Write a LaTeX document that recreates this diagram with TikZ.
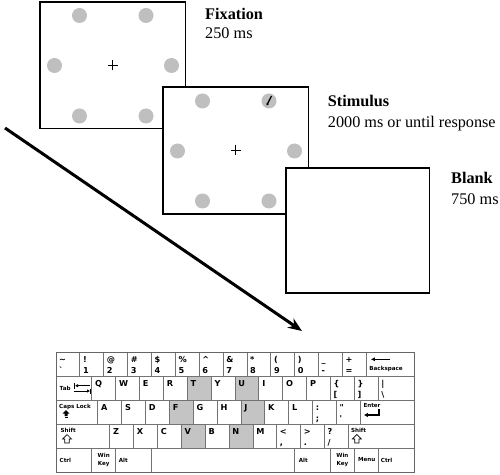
\documentclass[tikz,border=0pt]{standalone}
\usepackage{fontspec}
\setmainfont{Liberation Serif}
\newfontfamily\kbfont{DejaVu Sans}
\usetikzlibrary{arrows.meta,calc}
\newcommand\kk[5]{\node[keybox,#5,minimum width={#4*23.867bp}] (#1) at ({56+#2*23.867},{352+#3*24}) {};}
\newcommand\kl[2]{\node[klet] (#1-l) at ($(#1.north west)+(3.2,10.3)$) {#2};}
\newcommand\kt[3]{\node[klet] (#1-u) at ($(#1.north west)+(3,10.3)$) {#2};\node[klet] (#1-d) at ($(#1.north west)+(3,21)$) {#3};}
\newcommand\ksl[4]{\node[ksm] (#1-s) at ($(#1.north west)+(#2,#3)$) {#4};}
\begin{document}
\begin{tikzpicture}[x=1bp,y=-1bp,
  frame/.style={draw=black,line width=1.6bp,fill=white,inner sep=0,outer sep=0,anchor=north west},
  gdot/.style={circle,fill=black!25,inner sep=0,minimum size=15bp},
  plus/.style={line width=0.7bp},
  lab/.style={anchor=base west,inner sep=0,font=\fontsize{16.3}{18}\selectfont},
  keybox/.style={draw=black!55,line width=0.8bp,fill=white,inner sep=0,outer sep=0,anchor=north west,minimum height=24bp},
  shade/.style={fill=black!23},
  klet/.style={anchor=base west,inner sep=0,font=\kbfont\bfseries\fontsize{8.2}{8.5}\selectfont},
  ksm/.style={anchor=west,inner sep=0,font=\kbfont\bfseries\fontsize{5.6}{6}\selectfont},
  kicon/.style={line width=1bp},
]
\useasboundingbox (0,0) rectangle (500,475);

% ---- Fixation frame
\node[frame,minimum width=145.5bp,minimum height=126.5bp] (fix) at (40,2) {};
\foreach \dx/\dy [count=\i] in {39.5/13.5,106/13.5,14.5/63.5,131.5/63.5,39.5/114,106/114}
  \node[gdot] (fd\i) at ($(fix.north west)+(\dx,\dy)$) {};
\draw[plus] ($(fix.center)+(-5,0)$) -- ($(fix.center)+(5,0)$) ($(fix.center)+(0,-5)$) -- ($(fix.center)+(0,5)$);

% ---- Stimulus frame
\node[frame,minimum width=145.5bp,minimum height=127bp] (stim) at (163,87) {};
\foreach \dx/\dy [count=\i] in {39.5/14,106/14,14.5/64,131.5/64,39.5/114,106/114}
  \node[gdot] (sd\i) at ($(stim.north west)+(\dx,\dy)$) {};
\draw[plus] ($(stim.center)+(-5,0)$) -- ($(stim.center)+(5,0)$) ($(stim.center)+(0,-5)$) -- ($(stim.center)+(0,5)$);
\draw[line width=1.3bp,-{Latex[length=2.5bp,width=2.8bp]}] ($(sd2.center)+(2.5,-5)$) -- ($(sd2.center)+(-2.5,4.8)$);

% ---- Blank frame
\node[frame,minimum width=143.5bp,minimum height=125bp] (blank) at (286,168) {};

% ---- Labels
\node[lab] (fixT) at (205,20) {\textbf{Fixation}};
\node[lab] (fixD) at (205,39) {250 ms};
\node[lab] (stT) at (327.7,107) {\textbf{Stimulus}};
\node[lab] (stD) at (327.7,127.5) {2000 ms or until response};
\node[lab] (blT) at (451,184) {\textbf{Blank}};
\node[lab] (blD) at (451,205) {750 ms};

% ---- Time arrow
\coordinate (astart) at (5,128);
\coordinate (aend) at (302,331);
\draw[line width=3bp,-{Stealth[length=14bp,width=11bp]}] (astart) -- (aend);

% ---- Keyboard row 0
\kk{ktil}{0}{0}{1}{}\kt{ktil}{\textasciitilde}{\textasciigrave}
\kk{k1}{1}{0}{1}{}\kt{k1}{!}{1}
\kk{k2}{2}{0}{1}{}\kt{k2}{@}{2}
\kk{k3}{3}{0}{1}{}\kt{k3}{\#}{3}
\kk{k4}{4}{0}{1}{}\kt{k4}{\$}{4}
\kk{k5}{5}{0}{1}{}\kt{k5}{\%}{5}
\kk{k6}{6}{0}{1}{}\kt{k6}{\textasciicircum}{6}
\kk{k7}{7}{0}{1}{}\kt{k7}{\&}{7}
\kk{k8}{8}{0}{1}{}\kt{k8}{*}{8}
\kk{k9}{9}{0}{1}{}\kt{k9}{(}{9}
\kk{k0}{10}{0}{1}{}\kt{k0}{)}{0}
\kk{kmin}{11}{0}{1}{}\kt{kmin}{\_}{-}
\kk{keq}{12}{0}{1}{}\kt{keq}{+}{=}
\kk{kbs}{13}{0}{2}{}
\draw[kicon,-{Latex[length=4bp,width=4bp]}] ($(kbs.north west)+(24,7.3)$) -- ($(kbs.north west)+(4.5,7.3)$);
\ksl{kbs}{3}{17}{Backspace}

% ---- row 1
\kk{ktab}{0}{1}{1.5}{}
\ksl{ktab}{3.5}{12}{Tab}
\draw[kicon] ($(ktab.north west)+(18.5,7)$) -- +(0,5.5);
\draw[kicon,-{Latex[length=3bp,width=3.5bp]}] ($(ktab.north west)+(34,9.7)$) -- ($(ktab.north west)+(19,9.7)$);
\draw[kicon] ($(ktab.north west)+(34.5,12.5)$) -- +(0,5.5);
\draw[kicon,-{Latex[length=3bp,width=3.5bp]}] ($(ktab.north west)+(18,15)$) -- ($(ktab.north west)+(34,15)$);
\kk{kq}{1.5}{1}{1}{}\kl{kq}{Q}
\kk{kw}{2.5}{1}{1}{}\kl{kw}{W}
\kk{ke}{3.5}{1}{1}{}\kl{ke}{E}
\kk{kr}{4.5}{1}{1}{}\kl{kr}{R}
\kk{kT}{5.5}{1}{1}{shade}\kl{kT}{T}
\kk{ky}{6.5}{1}{1}{}\kl{ky}{Y}
\kk{kU}{7.5}{1}{1}{shade}\kl{kU}{U}
\kk{ki}{8.5}{1}{1}{}\kl{ki}{I}
\kk{ko}{9.5}{1}{1}{}\kl{ko}{O}
\kk{kp}{10.5}{1}{1}{}\kl{kp}{P}
\kk{klb}{11.5}{1}{1}{}\kt{klb}{\{}{[}
\kk{krb}{12.5}{1}{1}{}\kt{krb}{\}}{]}
\kk{kbsl}{13.5}{1}{1.5}{}\kt{kbsl}{|}{\textbackslash}

% ---- row 2
\kk{kcaps}{0}{2}{1.75}{}
\ksl{kcaps}{3}{7}{Caps Lock}
\fill ($(kcaps.north west)+(10,10)$) -- ++(3.5,3.5) -- ++(-2,0) -- ++(0,2.5) -- ++(-3,0) -- ++(0,-2.5) -- ++(-2,0) -- cycle;
\fill ($(kcaps.north west)+(8.5,16.8)$) rectangle ++(3,1.4);
\kk{ka}{1.75}{2}{1}{}\kl{ka}{A}
\kk{ks}{2.75}{2}{1}{}\kl{ks}{S}
\kk{kd}{3.75}{2}{1}{}\kl{kd}{D}
\kk{kF}{4.75}{2}{1}{shade}\kl{kF}{F}
\kk{kg}{5.75}{2}{1}{}\kl{kg}{G}
\kk{kh}{6.75}{2}{1}{}\kl{kh}{H}
\kk{kJ}{7.75}{2}{1}{shade}\kl{kJ}{J}
\kk{kk}{8.75}{2}{1}{}\kl{kk}{K}
\kk{kl}{9.75}{2}{1}{}\kl{kl}{L}
\kk{ksc}{10.75}{2}{1}{}\kt{ksc}{:}{;}
\kk{kqu}{11.75}{2}{1}{}\kt{kqu}{"}{'}
\kk{kent}{12.75}{2}{2.25}{}
\ksl{kent}{3}{6}{Enter}
\draw[line width=1.3bp,-{Latex[length=4bp,width=4.5bp]}] ($(kent.north west)+(18.7,9)$) -- ++(0,6) -- ($(kent.north west)+(3.5,15)$);

% ---- row 3
\kk{klsh}{0}{3}{2.25}{}
\ksl{klsh}{4.5}{6.5}{Shift}
\draw[line width=0.7bp] ($(klsh.north west)+(11,10.5)$) -- ++(4.5,4.5) -- ++(-2.3,0) -- ++(0,4) -- ++(-4.4,0) -- ++(0,-4) -- ++(-2.3,0) -- cycle;
\kk{kz}{2.25}{3}{1}{}\kl{kz}{Z}
\kk{kx}{3.25}{3}{1}{}\kl{kx}{X}
\kk{kc}{4.25}{3}{1}{}\kl{kc}{C}
\kk{kV}{5.25}{3}{1}{shade}\kl{kV}{V}
\kk{kb}{6.25}{3}{1}{}\kl{kb}{B}
\kk{kN}{7.25}{3}{1}{shade}\kl{kN}{N}
\kk{km}{8.25}{3}{1}{}\kl{km}{M}
\kk{kcom}{9.25}{3}{1}{}\kt{kcom}{<}{,}
\kk{kper}{10.25}{3}{1}{}\kt{kper}{>}{.}
\kk{ksl}{11.25}{3}{1}{}\kt{ksl}{?}{/}
\kk{krsh}{12.25}{3}{2.75}{}
\ksl{krsh}{2.5}{6.5}{Shift}
\draw[line width=0.7bp] ($(krsh.north west)+(8.5,10.5)$) -- ++(4.5,4.5) -- ++(-2.3,0) -- ++(0,4) -- ++(-4.4,0) -- ++(0,-4) -- ++(-2.3,0) -- cycle;

% ---- row 4
\kk{klctrl}{0}{4}{1.5}{}\ksl{klctrl}{3.5}{12}{Ctrl}
\kk{klwin}{1.5}{4}{1}{}
\node[ksm,anchor=center] (klwin-a) at ($(klwin.north)+(0,7.5)$) {Win};
\node[ksm,anchor=center] (klwin-b) at ($(klwin.north)+(0,16.5)$) {Key};
\kk{klalt}{2.5}{4}{1.5}{}\ksl{klalt}{3}{12}{Alt}
\kk{kspace}{4}{4}{6}{}
\kk{kralt}{10}{4}{1.5}{}\ksl{kralt}{4}{12}{Alt}
\kk{krwin}{11.5}{4}{1}{}
\node[ksm,anchor=center] (krwin-a) at ($(krwin.north)+(0,7.5)$) {Win};
\node[ksm,anchor=center] (krwin-b) at ($(krwin.north)+(0,16.5)$) {Key};
\kk{kmenu}{12.5}{4}{1}{}\ksl{kmenu}{3.5}{12}{Menu}
\kk{krctrl}{13.5}{4}{1.5}{}\ksl{krctrl}{2.5}{12}{Ctrl}

\draw[draw=black!60,line width=1bp] (ktil.north west) rectangle (krctrl.south east);
\end{tikzpicture}
\end{document}
